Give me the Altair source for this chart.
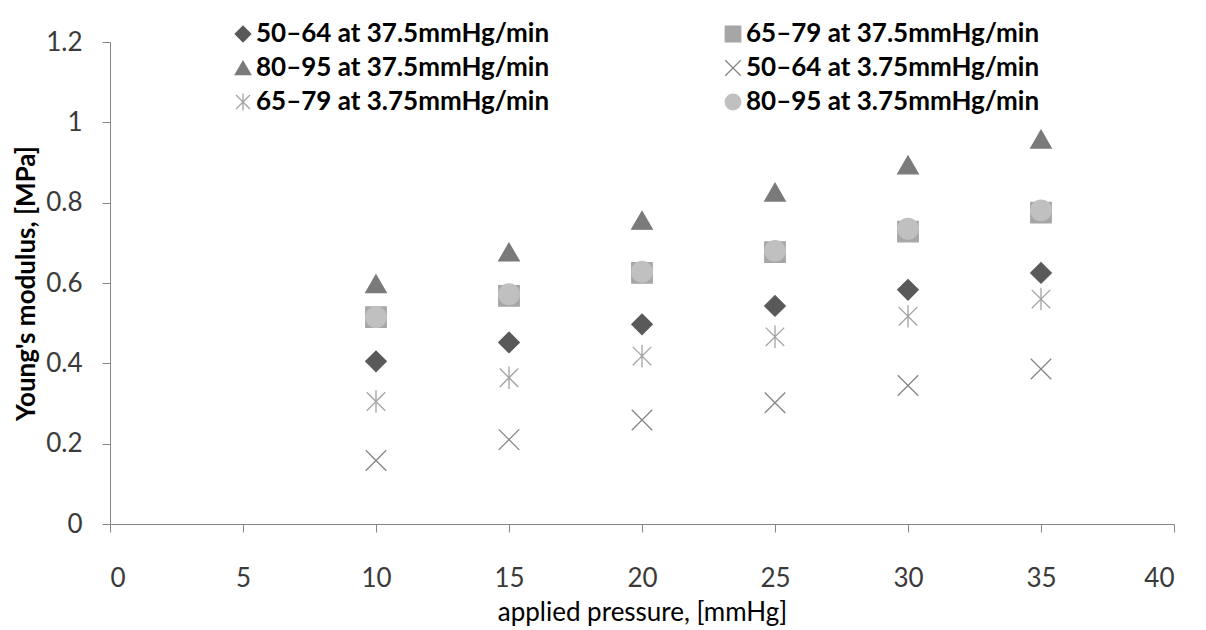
import altair as alt
import pandas as pd

pressure = [10, 15, 20, 25, 30, 35]
series_names = [
    "50–64 at 37.5mmHg/min",
    "65–79 at 37.5mmHg/min",
    "80–95 at 37.5mmHg/min",
    "50–64 at 3.75mmHg/min",
    "65–79 at 3.75mmHg/min",
    "80–95 at 3.75mmHg/min",
]
s1 = [0.405, 0.452, 0.497, 0.543, 0.583, 0.625]
s2 = [0.515, 0.568, 0.625, 0.677, 0.728, 0.775]
s3 = [0.598, 0.677, 0.756, 0.826, 0.894, 0.958]
s4 = [0.158, 0.210, 0.259, 0.302, 0.345, 0.386]
s5 = [0.305, 0.364, 0.418, 0.466, 0.517, 0.560]
s6 = [0.515, 0.572, 0.628, 0.680, 0.735, 0.781]
all_series = [s1, s2, s3, s4, s5, s6]

x_path = "M-1,-1L1,1M-1,1L1,-1"
ast_path = "M-0.9,-0.9L0.9,0.9M-0.9,0.9L0.9,-0.9M0,-1.1L0,1.1"
shapes = ["diamond", "square", "triangle-up", x_path, ast_path, "circle"]
fills = ["#595959", "#a6a6a6", "#7a7a7a", "transparent", "transparent", "#c0c0c0"]
strokes = ["#595959", "#a6a6a6", "#7a7a7a", "#858585", "#a3a3a3", "#c0c0c0"]

# draw order: circles on top of squares
draw_order = [2, 0, 1, 5, 4, 3]

rows = []
for k in draw_order:
    for x, v in zip(pressure, all_series[k]):
        rows.append({"series": series_names[k], "pressure": x, "modulus": v,
                     "ord": draw_order.index(k)})
df = pd.DataFrame(rows)

# legend laid out column-major in two columns -> reorder domain so rows read like reference
leg_idx = [0, 2, 4, 1, 3, 5]
dom = [series_names[i] for i in leg_idx]
shape_rng = [shapes[i] for i in leg_idx]
fill_rng = [fills[i] for i in leg_idx]
stroke_rng = [strokes[i] for i in leg_idx]

FONT = "Lato"

chart = alt.Chart(df).mark_point(size=420, strokeWidth=1.3, opacity=1).encode(
    x=alt.X("pressure:Q",
            scale=alt.Scale(domain=[0, 40], nice=False),
            axis=alt.Axis(values=[0, 5, 10, 15, 20, 25, 30, 35, 40], title="applied pressure, [mmHg]",
                          grid=False, titleFontWeight="normal", titlePadding=8, labelPadding=33)),
    y=alt.Y("modulus:Q",
            scale=alt.Scale(domain=[0, 1.2], nice=False),
            axis=alt.Axis(values=[0, 0.2, 0.4, 0.6, 0.8, 1.0, 1.2], format=".1~f",
                          title="Young's modulus, [MPa]", grid=False,
                          titleFontWeight="bold", titlePadding=6, labelPadding=20)),
    shape=alt.Shape("series:N", scale=alt.Scale(domain=dom, range=shape_rng),
                    legend=alt.Legend(title=None, orient="none", legendX=120, legendY=-21,
                                      columns=2, columnPadding=170, rowPadding=8, padding=0,
                                      symbolSize=240, labelFontSize=26, labelFontWeight="bold",
                                      labelColor="#000000", labelFont=FONT, symbolStrokeWidth=1.3,
                                      labelOffset=0, labelLimit=500)),
    fill=alt.Fill("series:N", scale=alt.Scale(domain=dom, range=fill_rng), legend=None),
    stroke=alt.Stroke("series:N", scale=alt.Scale(domain=dom, range=stroke_rng), legend=None),
    order=alt.Order("ord:Q"),
).properties(
    width=1064, height=482,
    autosize=alt.AutoSizeParams(type="none"),
    padding={"left": 102, "top": 34, "right": 20, "bottom": 104},
).configure_axis(
    domainColor="#868686", tickColor="#868686", tickSize=8,
    labelFont=FONT, titleFont=FONT, labelFontSize=26, titleFontSize=26,
    labelColor="#3a3a3a", titleColor="#000000",
).configure_view(stroke=None)

chart.save("out.html", embed_options={"renderer": "svg", "actions": False})
